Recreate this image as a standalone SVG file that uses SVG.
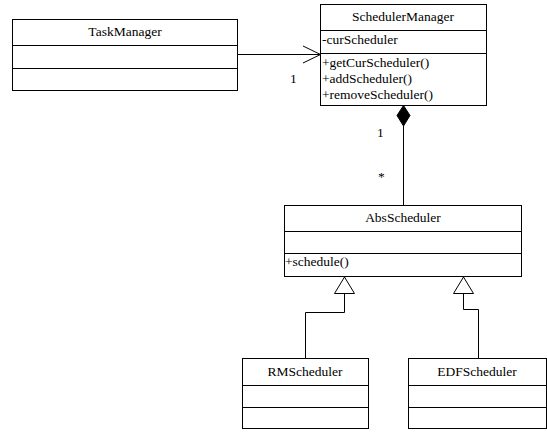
<svg xmlns="http://www.w3.org/2000/svg" width="547" height="432" viewBox="0 0 547 432">
<style>
.box{fill:#fff;stroke:#000;stroke-width:1}
.ln{fill:none;stroke:#000;stroke-width:1}
text{font-family:"Liberation Serif","Times New Roman",serif;font-size:13.5px;fill:#000}
.c{text-anchor:middle}
</style>
<rect width="547" height="432" fill="#fff"/>
<g id="TaskManager">
<rect class="box" x="12.5" y="19.5" width="225" height="71"/>
<line class="ln" x1="12.5" y1="45.5" x2="237.5" y2="45.5"/>
<line class="ln" x1="12.5" y1="68.5" x2="237.5" y2="68.5"/>
<text class="c" x="125" y="36">TaskManager</text>
</g>
<g id="SchedulerManager">
<rect class="box" x="320.5" y="4.5" width="166" height="101"/>
<line class="ln" x1="320.5" y1="30.5" x2="486.5" y2="30.5"/>
<line class="ln" x1="320.5" y1="53.5" x2="486.5" y2="53.5"/>
<text class="c" x="403" y="21">SchedulerManager</text>
<text x="322" y="44">-curScheduler</text>
<text x="322" y="67">+getCurScheduler()</text>
<text x="322" y="83">+addScheduler()</text>
<text x="322" y="99">+removeScheduler()</text>
</g>
<g id="AbsScheduler">
<rect class="box" x="284.5" y="205.5" width="237" height="71"/>
<line class="ln" x1="284.5" y1="231.5" x2="521.5" y2="231.5"/>
<line class="ln" x1="284.5" y1="253.5" x2="521.5" y2="253.5"/>
<text class="c" x="403" y="222">AbsScheduler</text>
<text x="285" y="266">+schedule()</text>
</g>
<g id="RMScheduler">
<rect class="box" x="242.5" y="358.5" width="126" height="70"/>
<line class="ln" x1="242.5" y1="385.5" x2="368.5" y2="385.5"/>
<line class="ln" x1="242.5" y1="407.5" x2="368.5" y2="407.5"/>
<text class="c" x="305" y="376">RMScheduler</text>
</g>
<g id="EDFScheduler">
<rect class="box" x="408.5" y="358.5" width="138" height="70"/>
<line class="ln" x1="408.5" y1="385.5" x2="546.5" y2="385.5"/>
<line class="ln" x1="408.5" y1="407.5" x2="546.5" y2="407.5"/>
<text class="c" x="477" y="376">EDFScheduler</text>
</g>
<g id="connectors">
<line class="ln" x1="237.5" y1="54.5" x2="320.5" y2="54.5"/>
<polyline class="ln" points="303,46 320.5,54.5 303,63"/>
<text x="290" y="83">1</text>
<polygon points="403.5,105.5 410,115.5 403.5,126 397,115.5" fill="#000" stroke="#000" stroke-width="1"/>
<line class="ln" x1="403.5" y1="126" x2="403.5" y2="205.5"/>
<text x="377" y="137">1</text>
<text x="378" y="181">*</text>
<polyline class="ln" points="344.5,293.5 344.5,312.5 305.5,312.5 305.5,358.5"/>
<polygon class="box" points="344.5,277 354.5,293.5 334.5,293.5"/>
<polyline class="ln" points="463.5,293.5 463.5,309.5 478.5,309.5 478.5,358.5"/>
<polygon class="box" points="463.5,277 473.5,293.5 453.5,293.5"/>
</g>
</svg>
